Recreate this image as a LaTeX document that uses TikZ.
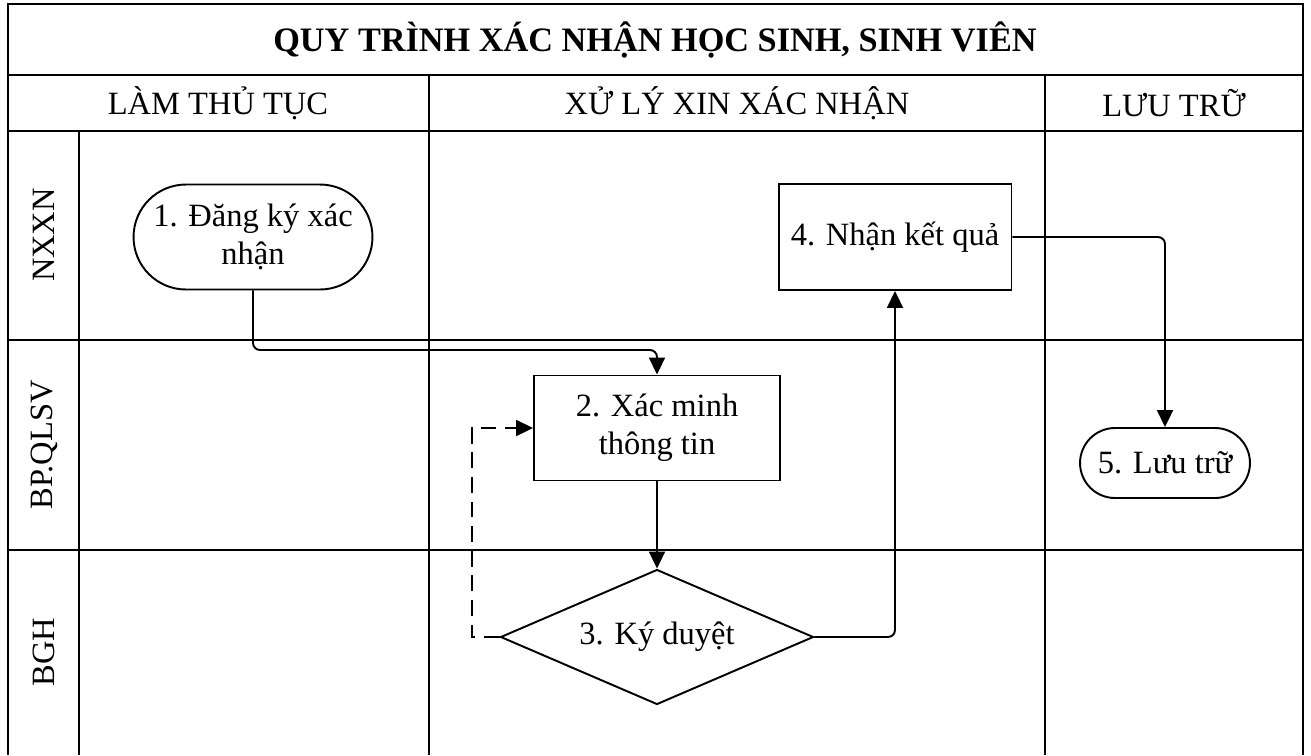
\documentclass[tikz,border=0pt]{standalone}
\usepackage{fontspec}
\setmainfont{Liberation Serif}
\usetikzlibrary{arrows.meta,shapes.misc,shapes.geometric}
\tikzset{
  txt/.style={font=\fontsize{18.5}{21.5}\selectfont,align=center},
  pill/.style={draw,line width=1.1pt,rounded rectangle,txt,inner sep=2pt},
  box/.style={draw,line width=1.1pt,rectangle,txt,inner sep=2pt},
  dec/.style={draw,line width=1.1pt,diamond,shape aspect=2.32,txt,inner sep=0pt,minimum width=6.26cm,minimum height=2.7cm},
  lane/.style={txt,rotate=90},
  grid/.style={line width=1.1pt},
  frame/.style={line width=1.6pt},
  arr/.style={-{Triangle[length=3.4mm,width=3.2mm]},line width=1.1pt,rounded corners=4pt}
}
\begin{document}
\begin{tikzpicture}[x=0.02cm,y=-0.02cm]
  \useasboundingbox (0,0) rectangle (1311,755);
  % table
  \draw[frame] (8,755) -- (8,4) -- (1303,4) -- (1303,755);
  \draw[frame] (8,75) -- (1303,75);
  \draw[frame] (8,131) -- (1303,131);
  \draw[grid] (429,75) -- (429,755);
  \draw[grid] (1045,75) -- (1045,755);
  \draw[grid] (79,131) -- (79,755);
  \draw[grid] (8,340) -- (1303,340);
  \draw[grid] (8,550) -- (1303,550);
  \node[txt,font=\fontsize{19.5}{22}\selectfont\bfseries] (title) at (655,40) {QUY TRÌNH XÁC NHẬN HỌC SINH, SINH VIÊN};
  \node[txt] (h1) at (218,103) {LÀM THỦ TỤC};
  \node[txt] (h2) at (737,103) {XỬ LÝ XIN XÁC NHẬN};
  \node[txt] (h3) at (1174,103) {LƯU TRỮ};
  \node[lane] (l1) at (44,235) {NXXN};
  \node[lane] (l2) at (44,445) {BP.QLSV};
  \node[lane] (l3) at (44,652) {BGH};
  % steps
  \node[pill,minimum width=4.92cm,minimum height=2.1cm] (s1) at (253,237) {1. Đăng ký xác\\nhận};
  \node[box,minimum width=4.92cm,minimum height=2.1cm] (s2) at (657,428) {2. Xác minh\\thông tin};
  \node[dec] (s3) at (657,637) {3. Ký duyệt};
  \node[box,minimum width=4.66cm,minimum height=2.12cm] (s4) at (895,237) {4. Nhận kết quả};
  \node[pill,minimum width=3.54cm,minimum height=1.4cm] (s5) at (1165,463) {5. Lưu trữ};
  % flows
  \coordinate (j1) at (253,350);
  \draw[arr] (s1.south) -- (j1) -| (s2.north);
  \draw[arr] (s2.south) -- (s3.north);
  \draw[arr] (s3.east) -| (s4.south);
  \draw[arr] (s4.east) -| (s5.north);
  \draw[arr,dashed,dash pattern=on 9pt off 5pt,rounded corners=0pt] (s3.west) -- ++(-28,0) |- (s2.west);
\end{tikzpicture}
\end{document}
